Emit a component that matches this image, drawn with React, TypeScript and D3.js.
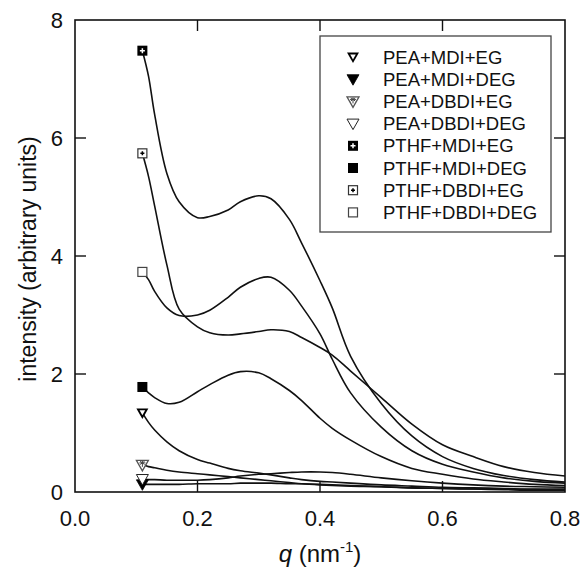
import React from "react";
import * as d3 from "d3";

const qGrid = [0.11, 0.12, 0.13, 0.15, 0.17, 0.2, 0.22, 0.25, 0.27, 0.3, 0.32, 0.35, 0.37, 0.4, 0.42, 0.45, 0.5, 0.55, 0.6, 0.65, 0.7, 0.75, 0.8];

const peaMdiEg = [1.34, 1.18, 1.05, 0.85, 0.7, 0.55, 0.49, 0.4, 0.36, 0.32, 0.29, 0.24, 0.21, 0.18, 0.17, 0.15, 0.12, 0.1, 0.08, 0.07, 0.06, 0.05, 0.05];
const peaMdiDeg = [0.13, 0.13, 0.13, 0.13, 0.13, 0.14, 0.14, 0.14, 0.15, 0.15, 0.15, 0.14, 0.14, 0.13, 0.12, 0.11, 0.09, 0.07, 0.06, 0.05, 0.04, 0.03, 0.03];
const peaDbdiEg = [0.46, 0.43, 0.41, 0.37, 0.34, 0.31, 0.29, 0.26, 0.24, 0.21, 0.19, 0.16, 0.14, 0.12, 0.11, 0.1, 0.09, 0.07, 0.06, 0.05, 0.05, 0.04, 0.04];
const peaDbdiDeg = [0.22, 0.21, 0.21, 0.2, 0.2, 0.2, 0.21, 0.24, 0.27, 0.3, 0.31, 0.33, 0.34, 0.34, 0.33, 0.3, 0.24, 0.19, 0.15, 0.12, 0.1, 0.09, 0.08];
const pthfMdiEg = [7.48, 7.05, 6.4, 5.4, 4.92, 4.65, 4.67, 4.78, 4.92, 5.02, 4.97, 4.62, 4.22, 3.58, 3.12, 2.3, 1.5, 0.95, 0.6, 0.4, 0.28, 0.21, 0.17];
const pthfMdiDeg = [1.78, 1.68, 1.6, 1.5, 1.52, 1.7, 1.82, 1.98, 2.04, 2.02, 1.92, 1.72, 1.55, 1.25, 1.08, 0.88, 0.6, 0.4, 0.3, 0.22, 0.17, 0.13, 0.11];
const pthfDbdiEg = [5.74, 5.35, 4.85, 3.85, 3.1, 2.8, 2.7, 2.66, 2.68, 2.72, 2.75, 2.72, 2.62, 2.45, 2.32, 2.05, 1.6, 1.15, 0.8, 0.6, 0.43, 0.33, 0.27];
const pthfDbdiDeg = [3.73, 3.6, 3.4, 3.12, 2.99, 3.0, 3.08, 3.3, 3.47, 3.62, 3.64, 3.42, 3.15, 2.68, 2.25, 1.68, 1.1, 0.7, 0.47, 0.34, 0.24, 0.18, 0.15];

const seriesNames = [
  "PEA+MDI+EG",
  "PEA+MDI+DEG",
  "PEA+DBDI+EG",
  "PEA+DBDI+DEG",
  "PTHF+MDI+EG",
  "PTHF+MDI+DEG",
  "PTHF+DBDI+EG",
  "PTHF+DBDI+DEG",
];
const seriesValues = [peaMdiEg, peaMdiDeg, peaDbdiEg, peaDbdiDeg, pthfMdiEg, pthfMdiDeg, pthfDbdiEg, pthfDbdiDeg];
const markerKinds = ["triBold", "triFill", "triStar", "triOpen", "sqPlus", "sqFill", "sqDot", "sqOpen"];

const xTicks = [0, 0.2, 0.4, 0.6, 0.8];
const yTicks = [0, 2, 4, 6, 8];

const W = 582;
const H = 568;
const m = { left: 75, right: 17, top: 20, bottom: 76 };
const FONT = "Liberation Sans, Arial, Helvetica, sans-serif";

function Marker({ kind, x, y }: { kind: string; x: number; y: number }) {
  const s = 5;
  const tw = 6;
  const tri = `M${x - tw},${y - 4.5} L${x + tw},${y - 4.5} L${x},${y + 6} Z`;
  const triInner = `M${x - 2.8},${y - 2.6} L${x + 2.8},${y - 2.6} L${x},${y + 2.4} Z`;
  switch (kind) {
    case "triBold":
      return (
        <g>
          <path d={tri} fill="#000" />
          <path d={triInner} fill="#fff" />
        </g>
      );
    case "triFill":
      return <path d={tri} fill="#000" stroke="#000" strokeWidth={0.8} />;
    case "triStar":
      return (
        <g>
          <path d={tri} fill="#fff" stroke="#555" strokeWidth={1.3} />
          <path
            d={`M${x - 3},${y - 2} L${x + 3},${y - 2} M${x},${y - 4} L${x},${y + 2} M${x - 2.2},${y - 3.6} L${x + 2.2},${y - 0.4} M${x + 2.2},${y - 3.6} L${x - 2.2},${y - 0.4}`}
            stroke="#444"
            strokeWidth={1}
          />
        </g>
      );
    case "triOpen":
      return <path d={tri} fill="#fff" stroke="#222" strokeWidth={1} />;
    case "sqPlus":
      return (
        <g>
          <rect x={x - s} y={y - s} width={2 * s} height={2 * s} fill="#000" />
          <path d={`M${x - 2.5},${y} L${x + 2.5},${y} M${x},${y - 2.5} L${x},${y + 2.5}`} stroke="#fff" strokeWidth={1.5} />
        </g>
      );
    case "sqFill":
      return <rect x={x - s} y={y - s} width={2 * s} height={2 * s} fill="#000" />;
    case "sqDot":
      return (
        <g>
          <rect x={x - s + 0.5} y={y - s + 0.5} width={2 * s - 1} height={2 * s - 1} fill="#fff" stroke="#333" strokeWidth={1.2} />
          <path d={`M${x - 2},${y} L${x + 2},${y} M${x},${y - 2} L${x},${y + 2}`} stroke="#000" strokeWidth={1.5} />
        </g>
      );
    default:
      return <rect x={x - s + 0.5} y={y - s + 0.5} width={2 * s - 1} height={2 * s - 1} fill="#fff" stroke="#444" strokeWidth={1.2} />;
  }
}

export default function App() {
  const x = d3.scaleLinear().domain([0, 0.8]).range([m.left, W - m.right]);
  const y = d3.scaleLinear().domain([0, 8]).range([H - m.bottom, m.top]);
  const line = d3
    .line<number>()
    .x((_, i) => x(qGrid[i]))
    .y((d) => y(d))
    .curve(d3.curveCatmullRom.alpha(0.5));

  const x0 = x(0), x1 = x(0.8), y0 = y(0), y1 = y(8);
  const tl = 11;

  const legX = 320, legY = 36, legW = 231, legH = 196;
  const rowH = 22.2;

  return (
    <svg width={W} height={H} style={{ display: "block", position: "absolute", left: 0, top: 0 }} fontFamily={FONT}>
      <rect x={0} y={0} width={W} height={H} fill="#fff" />
      <defs>
        <clipPath id="plotclip">
          <rect x={x0} y={y1} width={x1 - x0} height={y0 - y1} />
        </clipPath>
      </defs>
      <g clipPath="url(#plotclip)">
        {seriesValues.map((vals, i) => (
          <path key={i} d={line(vals) || ""} fill="none" stroke="#111" strokeWidth={1.6} />
        ))}
      </g>
      {xTicks.slice(1, -1).map((t) => (
        <g key={"xt" + t}>
          <line x1={x(t)} x2={x(t)} y1={y0} y2={y0 - tl} stroke="#111" strokeWidth={1.4} />
          <line x1={x(t)} x2={x(t)} y1={y1} y2={y1 + tl} stroke="#111" strokeWidth={1.4} />
        </g>
      ))}
      {yTicks.slice(1, -1).map((t) => (
        <g key={"yt" + t}>
          <line x1={x0} x2={x0 + tl} y1={y(t)} y2={y(t)} stroke="#111" strokeWidth={1.4} />
          <line x1={x1} x2={x1 - tl} y1={y(t)} y2={y(t)} stroke="#111" strokeWidth={1.4} />
        </g>
      ))}
      <rect x={x0} y={y1} width={x1 - x0} height={y0 - y1} fill="none" stroke="#111" strokeWidth={1.6} />
      {seriesValues.map((vals, i) => (
        <Marker key={"m" + i} kind={markerKinds[i]} x={x(qGrid[0])} y={y(vals[0])} />
      ))}
      {xTicks.map((t) => (
        <text key={"xl" + t} x={x(t)} y={y0 + 34} textAnchor="middle" fontSize={22} fill="#111">
          {d3.format(".1f")(t)}
        </text>
      ))}
      {yTicks.map((t) => (
        <text key={"yl" + t} x={x0 - 12} y={y(t) + 8} textAnchor="end" fontSize={22} fill="#111">
          {t}
        </text>
      ))}
      <text x={(x0 + x1) / 2} y={H - 6} textAnchor="middle" fontSize={24} fill="#111">
        <tspan fontStyle="italic">q</tspan>
        <tspan> (nm</tspan>
        <tspan dy={-10} fontSize={15}>-1</tspan>
        <tspan dy={10}>)</tspan>
      </text>
      <text transform={`translate(36,${(y0 + y1) / 2 + 3}) rotate(-90)`} textAnchor="middle" fontSize={23} fill="#111">
        intensity (arbitrary units)
      </text>
      <rect x={legX} y={legY} width={legW} height={legH} fill="#fff" stroke="#444" strokeWidth={1.3} />
      {seriesNames.map((n, i) => {
        const cy = legY + 21 + i * rowH;
        return (
          <g key={"lg" + i}>
            <Marker kind={markerKinds[i]} x={legX + 33} y={cy} />
            <text x={legX + 63} y={cy + 6.5} fontSize={18.5} fill="#111">
              {n}
            </text>
          </g>
        );
      })}
    </svg>
  );
}
